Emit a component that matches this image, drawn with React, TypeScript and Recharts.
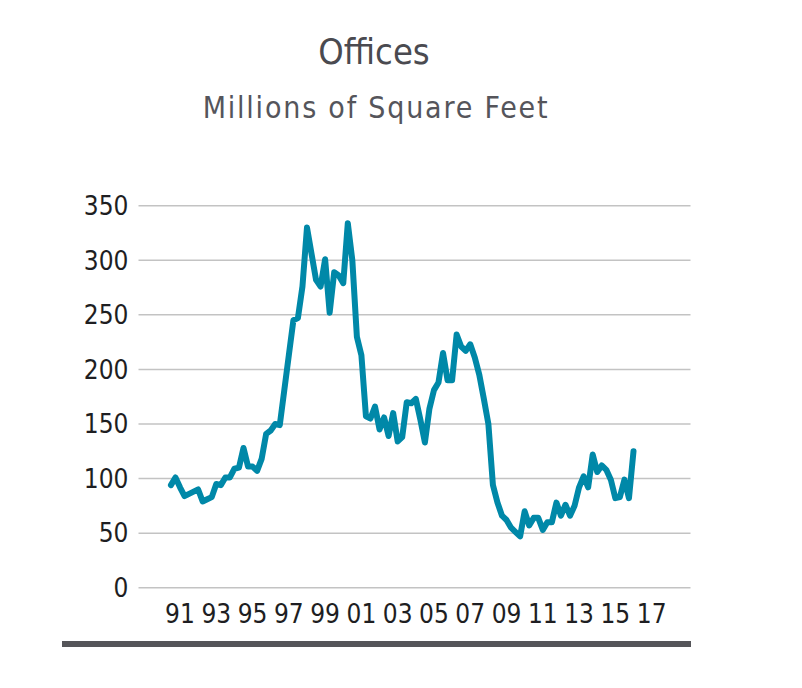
import React from 'react';
import { LineChart, Line, XAxis, YAxis, CartesianGrid } from 'recharts';

const title = 'Offices';
const subtitle = 'Millions of Square Feet';

// Quarterly series, first quarter = 1990 Q3
const startYear = 1990.5;
const officeValues = [
  94, 101, 92, 84, 86, 88, 90, 79, 81, 83,
  95, 94, 101, 101, 109, 110, 128, 111, 111, 107,
  118, 141, 144, 150, 149, 181, 213, 245, 247, 276,
  330, 306, 282, 276, 301, 252, 289, 286, 279, 334,
  300, 230, 213, 157, 155, 166, 145, 156, 139, 160,
  134, 138, 170, 169, 173, 154, 133, 164, 181, 188,
  215, 190, 190, 232, 221, 217, 223, 211, 195, 173,
  150, 94, 78, 66, 62, 55, 51, 47, 70, 57,
  64, 64, 53, 60, 60, 78, 66, 76, 66, 75,
  92, 102, 92, 122, 106, 112, 108, 99, 82, 83,
  99, 82, 125,
];

const yTicks = [0, 50, 100, 150, 200, 250, 300, 350];
const xTicks = [1991, 1993, 1995, 1997, 1999, 2001, 2003, 2005, 2007, 2009, 2011, 2013, 2015, 2017];

const data = officeValues.map((v, i) => ({ year: startYear + i * 0.25, value: v }));

const tickFont = "'Liberation Sans Narrow', 'DejaVu Sans Condensed', 'Roboto Condensed', sans-serif";
const titleFont = "'DejaVu Sans Condensed', 'Liberation Sans Narrow', sans-serif";

const fmtYear = (y: number) => String(y % 100).padStart(2, '0');

export default function App() {
  const W = 786;
  const H = 672;
  return (
    <div style={{ position: 'relative', width: W, height: H, background: '#fff' }}>
      <LineChart
        width={W}
        height={H}
        data={data}
        margin={{ top: 197.7, right: 103.5, left: 70.5, bottom: 62.3 }}
      >
        <CartesianGrid vertical={false} stroke="#c3c3c3" strokeWidth={1.5} />
        <XAxis
          dataKey="year"
          type="number"
          domain={[1988.712, 2019.142]}
          allowDataOverflow
          ticks={xTicks}
          tickFormatter={fmtYear}
          axisLine={false}
          tickLine={false}
          tickSize={0}
          tickMargin={17}
          height={30}
          interval={0}
          tick={{ fill: '#1e1e22', fontSize: 26, fontFamily: tickFont }}
        />
        <YAxis
          type="number"
          domain={[0, 350]}
          ticks={yTicks}
          axisLine={false}
          tickLine={false}
          tickSize={0}
          tickMargin={10}
          width={60}
          interval={0}
          tick={{ fill: '#1e1e22', fontSize: 26, fontFamily: tickFont }}
        />
        <Line
          type="linear"
          dataKey="value"
          stroke="#0088a8"
          strokeWidth={6}
          strokeLinejoin="round"
          strokeLinecap="round"
          dot={false}
          activeDot={false}
          isAnimationActive={false}
        />
      </LineChart>
      <svg
        width={W}
        height={H}
        style={{ position: 'absolute', left: 0, top: 0, pointerEvents: 'none' }}
      >
        <text x={366} y={56.3} textAnchor="middle" fontFamily={titleFont} fontSize={36} fill="#4a4a50">
          {title}
        </text>
        <text
          x={368}
          y={110.3}
          textAnchor="middle"
          fontFamily={titleFont}
          fontSize={30}
          letterSpacing={1.8}
          fill="#55555b"
        >
          {subtitle}
        </text>
      </svg>
      <div
        style={{
          position: 'absolute',
          left: 54,
          top: 633,
          width: 629,
          height: 6,
          background: '#555559',
        }}
      />
    </div>
  );
}
